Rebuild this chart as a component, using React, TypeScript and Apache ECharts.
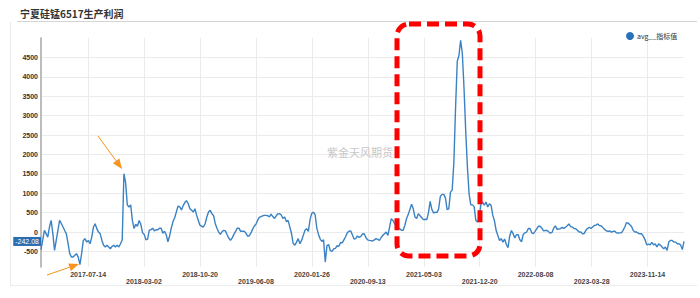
import React, { useEffect, useRef } from 'react';
import * as echarts from 'echarts';

const seriesName = 'avg__指标值';
const chartTitle = '宁夏硅锰6517生产利润';
const watermark = '紫金天风期货';
const startDate = '2016-12-31';
const stepDays = 7;

// weekly readings of the profit line (yuan/ton)
const values: number[] = [
  -450, -215, 45, -40, -130, 130, 300, -40, -470, -215, 45, 300,
  220, 130, 40, -45, -300, -557, -644, -644, -600, -557, -644, -840, -557,
  -215, -170, -258, -215, -300, -130, 130, 215, 88, 0, -45, -215, -340, -386, -340, -386, -430, -370, -340, -386, -340, -386, -300,
  -200, 1505, 1280, 700, 645, 700, 300, 90, 200, 150, 300, 200, -20, -60, -200, -180, 50, 60, 100, 30, 60, 60, 100, 100,
  -30, 20, -70, -250, -100, 100, 270, 370, 520, 670, 650, 570, 680, 760, 810, 730, 600, 560, 515, 600, 430, 300, 170, 150,
  130, 215, 390, 515, 560, 475, 420, 215, 100, 0, -60, 10, 45, 30, -70, -160, -210, -150, -60, 20, 100, 100, 20, 20, 20,
  -20, -100, -100, -30, 70, 150, 200, 300, 380, 400, 420, 430, 430, 420, 390, 460, 400, 350, 420, 470, 475, 440, 350, 390,
  270, 300, 140, -30, -290, -340, -260, -170, -300, -215, -85, 45, 88, 20, 320, 480, 510, 450, 100, -60, -180, -240, -200,
  -773, -350, -320, -480, -500, -430, -420, -350, -370, -270, -280, -200, -120, -20, 20, 30, -70, -180, -170, -100, -140,
  -110, -50, -45, -140, -200, -215, -220, -230, -200, -170, -190, -215, -140, -85, -45, 0, -85, 130, 345, 300, 215, 130,
  100, 88, 45, 45, 170, 345, 450, 580, 720, 600, 390, 350, 475, 420, 370, 320, 330, 320, 500, 790, 580, 490, 515, 500, 600,
  920, 970, 970, 880, 580, 600, 1030, 1080, 1800, 3200, 4400, 4550, 4940, 4600, 3700, 2600, 1675, 980, 700, 700, 650, 300,
  260, 380, 720, 773, 690, 773, 645, 730, 690, 430, 290, 40, -90, -215, -170, -258, -180, -320, -400, -100, 40, -40, -150,
  -70, -70, -200, -250, -60, -20, 0, 90, 90, -20, -40, 20, 90, 150, 150, 100, 30, 40, 45, 10, -30, -10, 100, 160, 70, 80,
  88, 120, 95, 125, 165, 210, 140, 130, 90, 88, 45, 0, 0, -45, -40, 45, 90, 125, 90, 130, 170, 180, 210, 170, 160, 115, 75,
  35, 15, 30, 0, 15, 25, -20, -25, -20, -20, 45, 130, 240, 230, 190, 145, 40, 0, 0, -30, -45, -45, -110, -200, -330, -310,
  -330, -265, -330, -305, -380, -305, -335, -386, -430, -386, -470, -258, -215, -215, -258, -258, -300, -300, -330, -450,
  -242.08,
];

const xLabelDates = [
  '2017-07-14', '2018-03-02', '2018-10-20', '2019-06-08', '2020-01-26', '2020-09-13',
  '2021-05-03', '2021-12-20', '2022-08-08', '2023-03-28', '2023-11-14',
];
const yTickValues = [-500, 0, 500, 1000, 1500, 2000, 2500, 3000, 3500, 4000, 4500];
const yMin = -900;
const yMax = 5000;
const lastValue = -242.08;

const DAY = 86400000;
function parseUTC(s: string) {
  const [y, m, d] = s.split('-').map(Number);
  return Date.UTC(y, m - 1, d);
}
function pad(n: number) {
  return n < 10 ? '0' + n : '' + n;
}
function fmt(t: number) {
  const d = new Date(t);
  return `${d.getUTCFullYear()}-${pad(d.getUTCMonth() + 1)}-${pad(d.getUTCDate())}`;
}

const LATIN = "'Liberation Sans', Arial, sans-serif";
const CJK = "'Noto Sans CJK SC', sans-serif";
const ORANGE = '#f7931e';

function arrow(x1: number, y1: number, x2: number, y2: number) {
  const dx = x2 - x1, dy = y2 - y1;
  const len = Math.sqrt(dx * dx + dy * dy);
  const ux = dx / len, uy = dy / len;
  const hl = 10, hw = 4;
  const bx = x2 - ux * hl, by = y2 - uy * hl;
  const px = -uy * hw, py = ux * hw;
  return [
    { type: 'line', z: 100, shape: { x1, y1, x2: bx, y2: by }, style: { stroke: ORANGE, lineWidth: 1 } },
    { type: 'polygon', z: 100, shape: { points: [[x2, y2], [bx + px, by + py], [bx - px, by - py]] }, style: { fill: ORANGE } },
  ];
}

export default function App() {
  const ref = useRef<HTMLDivElement>(null);
  useEffect(() => {
    const chart = echarts.init(ref.current!, null, { renderer: 'svg' });
    const start = parseUTC(startDate);
    const data = values.map((v, i) => [start + i * stepDays * DAY, v]);
    const labelTs = xLabelDates.map(parseUTC);
    const labelStyle = { fontSize: 7, color: '#444', fontWeight: 'bold', fontFamily: LATIN };

    chart.setOption({
      animation: false,
      backgroundColor: '#ffffff',
      textStyle: { fontFamily: LATIN },
      legend: {
        data: [seriesName],
        left: 621,
        top: 27,
        icon: 'circle',
        itemWidth: 8,
        itemHeight: 8,
        itemGap: 4,
        textStyle: { fontSize: 7, color: '#333', fontFamily: CJK, padding: [0, 0, 0, -2] },
      },
      grid: { left: 41, right: 16, top: 38, bottom: 31, containLabel: false },
      xAxis: {
        type: 'value',
        min: 'dataMin',
        max: 'dataMax',
        axisLine: { show: false },
        axisTick: { show: false, customValues: labelTs },
        axisLabel: {
          customValues: labelTs,
          margin: 4,
          ...labelStyle,
          formatter: (v: number) => {
            const s = fmt(v);
            const idx = xLabelDates.indexOf(s);
            return idx % 2 === 1 ? `{b|${s}}` : `{a|${s}}`;
          },
          rich: {
            a: { ...labelStyle },
            b: { ...labelStyle, padding: [7, 0, 0, 0] },
          },
        },
        splitLine: { show: true, lineStyle: { color: '#ebebeb', width: 1 } },
      },
      yAxis: {
        type: 'value',
        min: yMin,
        max: yMax,
        axisLine: { show: true, lineStyle: { color: '#a6a6a6', width: 1.5 } },
        axisTick: { show: false, customValues: yTickValues },
        axisLabel: {
          customValues: yTickValues,
          margin: 3,
          fontSize: 7,
          color: '#333',
          fontWeight: 'bold',
          fontFamily: LATIN,
          formatter: (v: number) => String(v),
        },
        splitLine: { show: true, lineStyle: { color: '#ebebeb', width: 1 } },
      },
      series: [
        {
          name: seriesName,
          type: 'line',
          data,
          symbol: 'none',
          showSymbol: false,
          lineStyle: { color: '#3a82c4', width: 1.4 },
          itemStyle: { color: '#2a72b8' },
          markLine: {
            silent: true,
            symbol: 'none',
            lineStyle: { color: 'transparent', width: 0 },
            label: {
              show: true,
              position: 'start',
              distance: 0,
              formatter: () => lastValue.toFixed(2),
              backgroundColor: '#2a6db0',
              color: '#ffffff',
              fontSize: 7,
              fontFamily: LATIN,
              padding: [1, 2, 1, 2],
            },
            data: [{ yAxis: lastValue }],
          },
        },
      ],
      graphic: [
        { type: 'line', shape: { x1: 17, y1: 21.5, x2: 697, y2: 21.5 }, style: { stroke: '#d4d4d4', lineWidth: 1 } },
        { type: 'line', shape: { x1: 10.5, y1: 22, x2: 10.5, y2: 285.5 }, style: { stroke: '#ececec', lineWidth: 1 } },
        { type: 'line', shape: { x1: 10, y1: 285.5, x2: 697, y2: 285.5 }, style: { stroke: '#ececec', lineWidth: 1 } },
        {
          type: 'text',
          left: 20,
          top: 8,
          style: { text: chartTitle, fill: '#333', font: `bold 10px ${CJK}` },
        },
        {
          type: 'text',
          left: 327,
          top: 146,
          z: 1,
          style: { text: watermark, fill: '#c8c8c8', font: `11px ${CJK}` },
        },
        {
          type: 'rect',
          z: 100,
          shape: { x: 397, y: 24, width: 83, height: 232, r: 12 },
          style: { fill: 'none', stroke: '#ff0000', lineWidth: 5, lineDash: [12, 6] },
        },
        ...arrow(98, 136, 122, 169),
        ...arrow(47, 275, 79, 264),
      ],
    });
    return () => chart.dispose();
  }, []);
  return (
    <div
      ref={ref}
      style={{ position: 'fixed', left: 0, top: 0, width: 700, height: 298, background: '#fff' }}
    />
  );
}
